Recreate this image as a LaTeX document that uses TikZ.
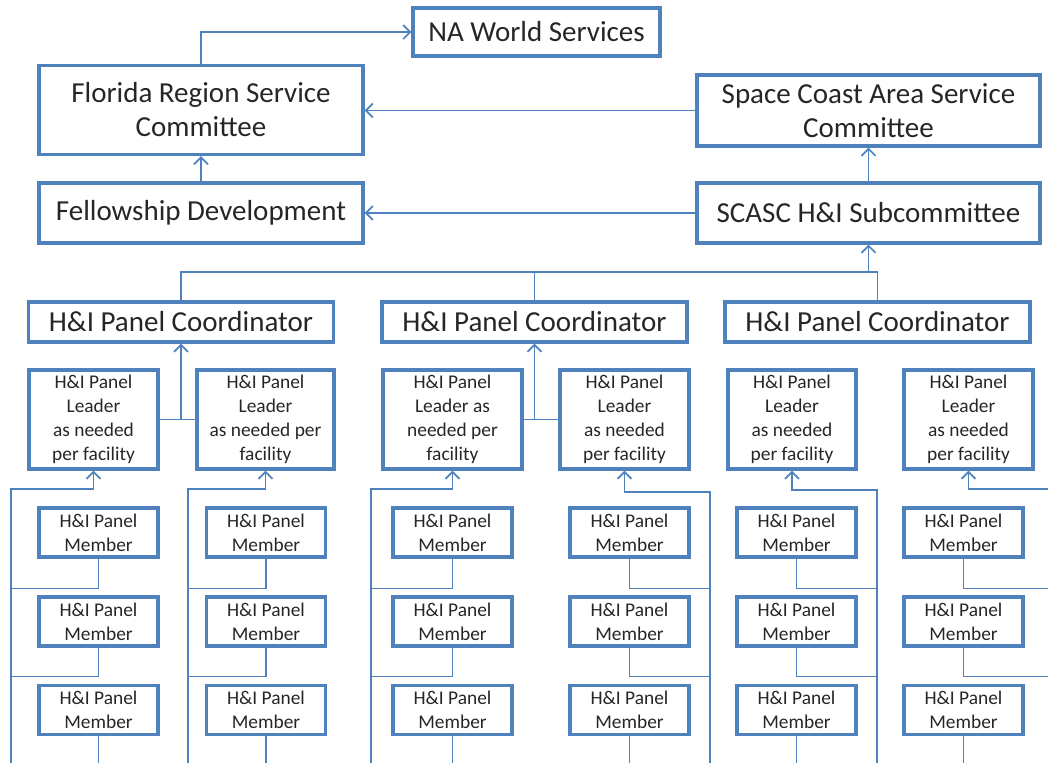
\documentclass[tikz,border=0pt]{standalone}
\usepackage{fontspec}
\setmainfont{Carlito}
\usepackage{tikz}
\usetikzlibrary{arrows.meta}
\definecolor{nablue}{RGB}{79,129,189}

\begin{document}
\begin{tikzpicture}[x=0.5pt, y=-0.5pt,
  every node/.style={draw=nablue, line width=1.6pt, align=center, inner sep=1pt, text=black!85},
  bigbox/.style={font=\fontsize{14.5}{17}\selectfont},
  smallbox/.style={font=\fontsize{9.7}{11.9}\selectfont},
  coordbox/.style={bigbox, minimum width=152.5pt, minimum height=20pt},
  leaderbox/.style={smallbox, minimum height=49.5pt},
  memberbox/.style={smallbox, minimum width=59.5pt, minimum height=24.5pt},
  link/.style={draw=nablue, line width=0.85pt},
  arr/.style={link, -{Straight Barb[length=3.5pt,width=7pt]}}]
\useasboundingbox (0,0) rectangle (1048,762);
\clip (0,0) rectangle (1048,762);

\node[bigbox, minimum width=123.5pt, minimum height=24pt] (nws) at (536.5,32) {NA World Services};
\node[bigbox, minimum width=162pt, minimum height=44.5pt] (frsc) at (201,110) {Florida Region Service\\Committee};
\node[bigbox, minimum width=171.5pt, minimum height=35.5pt] (sca) at (868.5,110.5) {Space Coast Area Service\\Committee};
\node[bigbox, minimum width=162pt, minimum height=30pt] (fd) at (201,213) {Fellowship Development};
\node[bigbox, minimum width=171.5pt, minimum height=30pt] (hisub) at (868.5,213) {SCASC H\&I Subcommittee};

\node[coordbox] (c1) at (181,322) {H\&I Panel Coordinator};
\node[coordbox] (c2) at (534.5,322) {H\&I Panel Coordinator};
\node[coordbox] (c3) at (877.5,322) {H\&I Panel Coordinator};

\node[leaderbox, minimum width=64.5pt] (l1) at (93.5,419.5) {H\&I Panel\\Leader\\as needed\\per facility};
\node[leaderbox, minimum width=68.5pt] (l2) at (265.5,419.5) {H\&I Panel\\Leader\\as needed per\\facility};
\node[leaderbox, minimum width=69.5pt] (l3) at (452.5,419.5) {H\&I Panel\\Leader as\\needed per\\facility};
\node[leaderbox, minimum width=64.5pt] (l4) at (624.5,419.5) {H\&I Panel\\Leader\\as needed\\per facility};
\node[leaderbox, minimum width=64pt] (l5) at (792,419.5) {H\&I Panel\\Leader\\as needed\\per facility};
\node[leaderbox, minimum width=64.5pt] (l6) at (968.5,419.5) {H\&I Panel\\Leader\\as needed\\per facility};

\node[memberbox] (m11) at (98.5,532.5) {H\&I Panel\\Member};
\node[memberbox] (m12) at (98.5,621.5) {H\&I Panel\\Member};
\node[memberbox] (m13) at (98.5,710) {H\&I Panel\\Member};
\node[memberbox] (m21) at (266,532.5) {H\&I Panel\\Member};
\node[memberbox] (m22) at (266,621.5) {H\&I Panel\\Member};
\node[memberbox] (m23) at (266,710) {H\&I Panel\\Member};
\node[memberbox] (m31) at (452.5,532.5) {H\&I Panel\\Member};
\node[memberbox] (m32) at (452.5,621.5) {H\&I Panel\\Member};
\node[memberbox] (m33) at (452.5,710) {H\&I Panel\\Member};
\node[memberbox] (m41) at (629.5,532.5) {H\&I Panel\\Member};
\node[memberbox] (m42) at (629.5,621.5) {H\&I Panel\\Member};
\node[memberbox] (m43) at (629.5,710) {H\&I Panel\\Member};
\node[memberbox] (m51) at (796.5,532.5) {H\&I Panel\\Member};
\node[memberbox] (m52) at (796.5,621.5) {H\&I Panel\\Member};
\node[memberbox] (m53) at (796.5,710) {H\&I Panel\\Member};
\node[memberbox] (m61) at (963.5,532.5) {H\&I Panel\\Member};
\node[memberbox] (m62) at (963.5,621.5) {H\&I Panel\\Member};
\node[memberbox] (m63) at (963.5,710) {H\&I Panel\\Member};

% upper levels
\draw[arr] (frsc) |- (nws);
\draw[arr] (sca.west) -- (frsc.east |- sca.west);
\draw[arr] (fd) -- (frsc);
\draw[arr] (hisub) -- (fd);
\draw[arr] (hisub) -- (sca);

% coordinators to subcommittee
\coordinate (bus) at (868.5,272);
\draw[link] (c1.north) |- (bus) -| (c3.north);
\draw[link] (c2.north) -- (c2 |- bus);
\draw[arr] (bus) -- (hisub);

% leaders to coordinators
\draw[link] (l1) -- (l2);
\draw[arr] (c1 |- l1.east) -- (c1);
\draw[link] (l3) -- (l4);
\draw[arr] (c2 |- l3.east) -- (c2);

% members to leaders
\coordinate (b1) at (11,770);    \coordinate (t1) at (11,489);
\coordinate (b2) at (188,770);   \coordinate (t2) at (188,489);
\coordinate (b3) at (371,770);   \coordinate (t3) at (371,489);
\coordinate (b4) at (710,770);   \coordinate (t4) at (710,492);
\coordinate (b5) at (877,770);   \coordinate (t5) at (877,490);
\coordinate (b6) at (1060,770);  \coordinate (t6) at (1060,489);

\draw[arr] (b1) -- (t1) -| (l1);
\draw[link] (m11.south) -- ++(0,30) -| (b1);
\draw[link] (m12.south) -- ++(0,29) -| (b1);
\draw[link] (m13.south) -- (m13 |- b1);

\draw[arr] (b2) -- (t2) -| (l2);
\draw[link] (m21.south) -- ++(0,30) -| (b2);
\draw[link] (m22.south) -- ++(0,29) -| (b2);
\draw[link] (m23.south) -- (m23 |- b2);

\draw[arr] (b3) -- (t3) -| (l3);
\draw[link] (m31.south) -- ++(0,30) -| (b3);
\draw[link] (m32.south) -- ++(0,29) -| (b3);
\draw[link] (m33.south) -- (m33 |- b3);

\draw[arr] (b4) -- (t4) -| (l4);
\draw[link] (m41.south) -- ++(0,30) -| (b4);
\draw[link] (m42.south) -- ++(0,29) -| (b4);
\draw[link] (m43.south) -- (m43 |- b4);

\draw[arr] (b5) -- (t5) -| (l5);
\draw[link] (m51.south) -- ++(0,30) -| (b5);
\draw[link] (m52.south) -- ++(0,29) -| (b5);
\draw[link] (m53.south) -- (m53 |- b5);

\draw[arr] (b6) -- (t6) -| (l6);
\draw[link] (m61.south) -- ++(0,30) -| (b6);
\draw[link] (m62.south) -- ++(0,29) -| (b6);
\draw[link] (m63.south) -- (m63 |- b6);
\end{tikzpicture}
\end{document}
